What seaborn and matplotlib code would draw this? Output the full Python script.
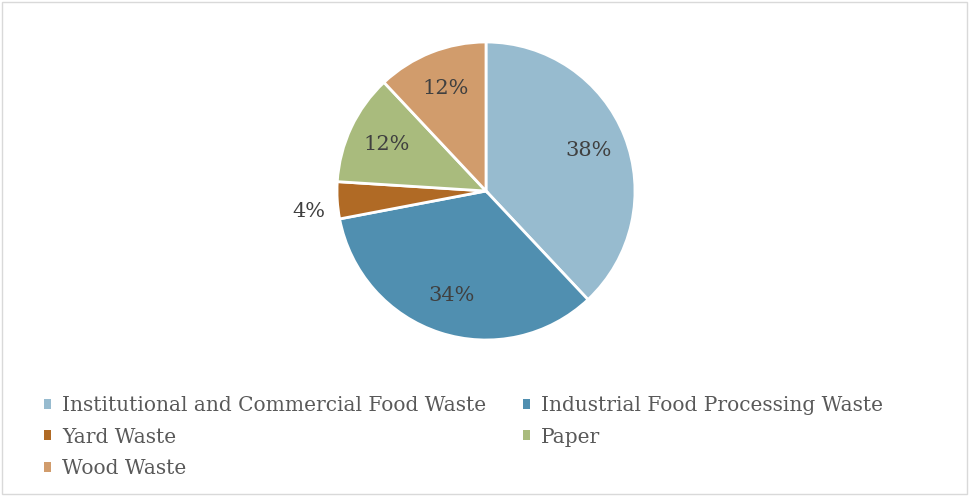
import matplotlib
matplotlib.use("Agg")
import matplotlib.pyplot as plt
import seaborn as sns
import numpy as np
from matplotlib.patches import Rectangle, Patch

categories = ["Institutional and Commercial Food Waste", "Industrial Food Processing Waste",
              "Yard Waste", "Paper", "Wood Waste"]
values = [38, 34, 4, 12, 12]
colors = ["#97BBCF", "#508FB0", "#B06A25", "#A9BB7D", "#D19C6C"]

sns.set_theme(style="white")
plt.rcParams['font.family'] = ['DejaVu Serif']

W, H = 969, 496
fig = plt.figure(figsize=(W / 100, H / 100), dpi=100)
fig.patch.set_facecolor("white")
fig.add_artist(Rectangle((2 / W, 2 / H), 1 - 4 / W, 1 - 4 / H, transform=fig.transFigure,
                         fill=False, edgecolor="#D9D9D9", linewidth=1))

cx, cy, r = 486, 191, 149
ax = fig.add_axes([(cx - r) / W, (H - cy - r) / H, 2 * r / W, 2 * r / H])
wedges, texts, autotexts = ax.pie(values, colors=sns.color_palette(colors), startangle=90,
                                  counterclock=False, radius=1,
                                  autopct=lambda p: f"{p:.0f}%", pctdistance=0.74,
                                  wedgeprops=dict(edgecolor="white", linewidth=2),
                                  textprops=dict(color="#404040", fontsize=15))
ax.set_xlim(-1, 1)
ax.set_ylim(-1, 1)
ax.set_aspect("equal")
ax.axis("off")

# small slice label outside (best fit)
for w, t, v in zip(wedges, autotexts, values):
    if v < 5:
        ang = np.deg2rad((w.theta1 + w.theta2) / 2)
        t.set_position((1.19 * np.cos(ang), 1.19 * np.sin(ang) - 0.06))

order = [0, 2, 4, 1, 3]
handles = [Patch(facecolor=colors[i], edgecolor="none") for i in order]
labels = [categories[i] for i in order]
fig.legend(handles, labels, ncol=2, loc="upper left", bbox_to_anchor=(36 / W, 1 - 388 / H),
           frameon=False, fontsize=14.5, handlelength=0.35, handleheight=0.4,
           handletextpad=0.55, columnspacing=1.8, labelspacing=0.62, labelcolor="#595959",
           borderaxespad=0)

fig.savefig("out.png", dpi=100, facecolor="white")
